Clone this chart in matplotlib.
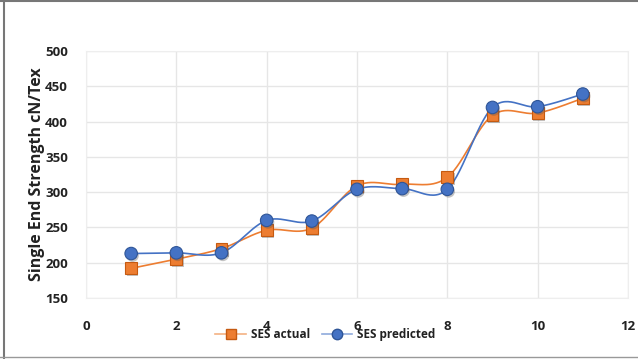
import numpy as np
import matplotlib
matplotlib.use("Agg")
import matplotlib.pyplot as plt
import matplotlib.patheffects as pe
from matplotlib.lines import Line2D

# sample number vs single end strength
sample = [1, 2, 3, 4, 5, 6, 7, 8, 9, 10, 11]
ses_actual = [192, 205, 220, 246, 249, 309, 311, 321, 409, 412, 433]
ses_predicted = [213, 214, 214, 260, 259, 304, 305, 304, 420, 421, 439]

ORANGE = "#ED7D31"
BLUE = "#4472C4"

plt.rcParams["font.family"] = ["Open Sans", "DejaVu Sans"]


def smooth(x, y, n=30):
    # catmull-rom style smoothing, like spreadsheet "smoothed line"
    x = np.asarray(x, float)
    y = np.asarray(y, float)
    px = np.concatenate([[x[0]], x, [x[-1]]])
    py = np.concatenate([[y[0]], y, [y[-1]]])
    xs, ys = [], []
    t = np.linspace(0, 1, n)
    for i in range(1, len(px) - 2):
        p0 = np.array([px[i - 1], py[i - 1]])
        p1 = np.array([px[i], py[i]])
        p2 = np.array([px[i + 1], py[i + 1]])
        p3 = np.array([px[i + 2], py[i + 2]])
        c1 = p1 + (p2 - p0) / 6
        c2 = p2 - (p3 - p1) / 6
        for tt in t:
            b = ((1 - tt) ** 3) * p1 + 3 * ((1 - tt) ** 2) * tt * c1 \
                + 3 * (1 - tt) * tt ** 2 * c2 + tt ** 3 * p2
            xs.append(b[0])
            ys.append(b[1])
    return xs, ys


fig = plt.figure(figsize=(6.38, 3.59), dpi=100)
ax = fig.add_axes([0.1348, 0.1699, 0.8495, 0.6881])

shadow = [pe.SimplePatchShadow(offset=(1, -1.5), alpha=0.35, shadow_rgbFace="#555555"),
          pe.Normal()]

sx, sy = smooth(sample, ses_actual)
ax.plot(sx, sy, color=ORANGE, lw=1.2, zorder=3)
sx, sy = smooth(sample, ses_predicted)
ax.plot(sx, sy, color=BLUE, lw=1.2, zorder=3)

ax.plot(sample, ses_actual, ls="none", marker="s", ms=8.5, mfc=ORANGE,
        mec="#C55A11", mew=0.8, zorder=4, path_effects=shadow)
ax.plot(sample, ses_predicted, ls="none", marker="o", ms=9, mfc=BLUE,
        mec="#2F5597", mew=0.8, zorder=5, path_effects=shadow)

ax.set_xlim(0, 12)
ax.set_ylim(150, 500)
ax.set_xticks(range(0, 13, 2))
ax.set_yticks(range(150, 501, 50))
ax.grid(True, color="#e6e6e6", lw=1)
ax.set_axisbelow(True)
for s in ax.spines.values():
    s.set_color("#eeeeee")
ax.tick_params(length=0, labelsize=9.5, colors="#222222")
ax.tick_params(axis="y", pad=13)
ax.tick_params(axis="x", pad=16)
for lab in ax.get_xticklabels() + ax.get_yticklabels():
    lab.set_fontweight("bold")

ax.set_ylabel("Single End Strength cN/Tex", fontsize=11.5, fontweight="bold",
              color="#222222", labelpad=0)

handles = [
    Line2D([], [], color="#F4B183", lw=1.2, marker="s", ms=7, mfc=ORANGE, mec="#C55A11"),
    Line2D([], [], color="#8FAADC", lw=1.2, marker="o", ms=7.5, mfc=BLUE, mec="#2F5597"),
]
leg = fig.legend(handles, ["SES actual", "SES predicted"], loc="center",
                 bbox_to_anchor=(0.51, 0.068), ncol=2, frameon=False,
                 prop={"size": 8.5, "weight": "bold"}, handlelength=2.6,
                 columnspacing=1.0, handletextpad=0.4)
for t in leg.get_texts():
    t.set_color("#222222")

# outer frame
fig.add_artist(Line2D([0.006, 0.006], [0, 1], color="#777777", lw=1.5))
fig.add_artist(Line2D([0, 1], [0.998, 0.998], color="#777777", lw=1.5))
fig.add_artist(Line2D([0, 1], [0.006, 0.006], color="#999999", lw=1))

fig.savefig("out.png", dpi=100)
